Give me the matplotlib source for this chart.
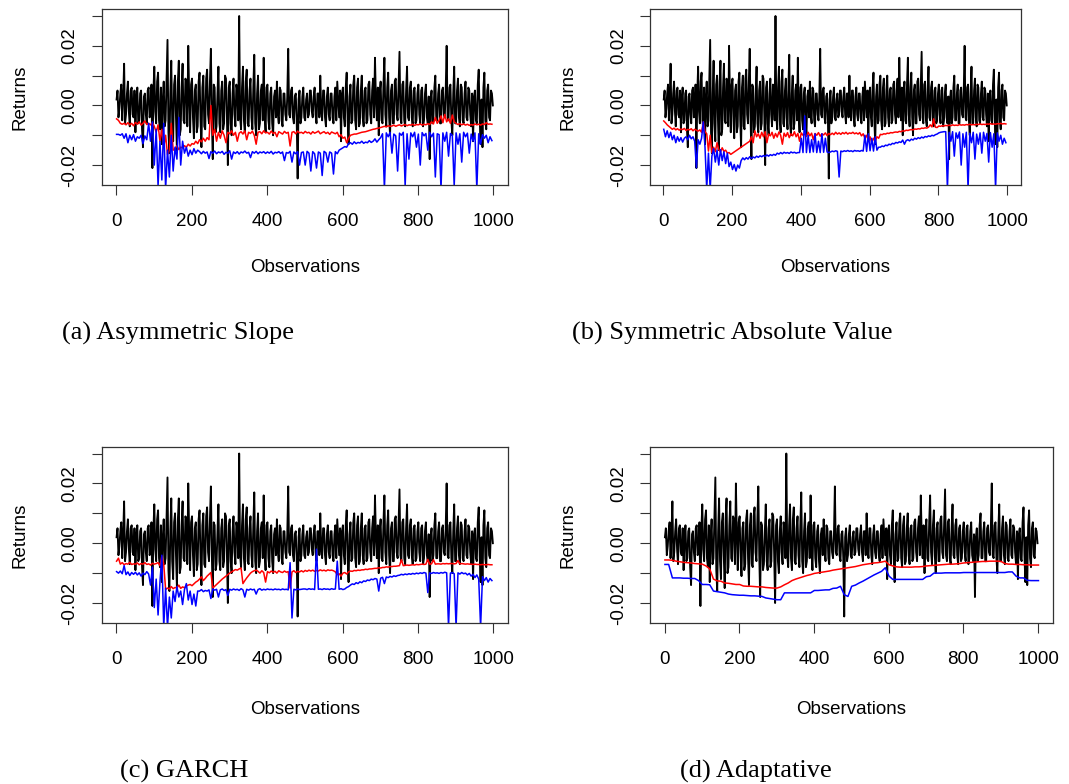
import numpy as np
import matplotlib
matplotlib.use("Agg")
import matplotlib.pyplot as plt

# daily returns, units of 1e-3, one value every 2.5 observations
returns = [
    2, 5, -4, -1, 4, 7, -5, 3, 14, -6,
    -3, 4, 8, -2, -7, 5, 6, -3, -4, 5,
    -9, 2, 6, -6, -5, 4, 5, -8, -14, 3,
    4, -3, -6, 5, 6, -4, -3, 7, -21, 4,
    13, -2, -6, 8, 11, -5, -8, 6, -13, 2,
    8, -7, -5, 9, 22, -9, -16, 4, 15, -6,
    -12, 7, 10, -4, -15, 8, 15, -10, -8, 6,
    14, -5, -6, 9, 8, -7, 20, 3, -9, 7,
    9, -4, -11, 5, 7, -9, -7, 8, 11, -5,
    -14, 6, 10, -7, -8, 9, 12, -3, -6, 8,
    19, -4, -18, 7, 6, -9, -7, 4, 13, -6,
    -9, 5, 8, -8, -6, 10, 9, -4, -20, 6,
    8, -6, -10, 4, 9, -3, -7, 7, 5, -5,
    30, -4, -8, 6, 13, -5, -9, 8, 12, -6,
    -7, 5, 9, -4, -8, 6, 17, -6, -10, 4,
    10, -8, -6, 5, 7, -5, 16, -3, -9, 6,
    7, -5, -8, 4, 6, -6, -10, 3, 5, -4,
    8, -3, -6, 6, 5, -5, -7, 4, 4, -3,
    -5, 3, 19, -3, -4, 5, 6, -4, -6, 3,
    4, -5, -24.5, 2, 5, -6, -4, 3, 6, -4,
    -5, 2, 4, -4, -3, 5, 5, -2, -4, 3,
    6, -3, -6, 4, 4, -4, 10, -2, -5, 5,
    5, -4, -7, 3, 6, -3, -5, 4, 4, -4,
    -6, 3, 6, -5, 8, 2, -4, 5, -12, 4,
    6, -4, -7, 6, 11, -5, -13, 3, 7, -6,
    -5, 7, 10, -5, -8, 6, 9, -7, -6, 5,
    10, -4, -7, 5, 6, -6, -5, 7, 8, -3,
    -6, 5, 9, -4, 16, 2, -5, 6, -10, 4,
    8, -5, -6, 7, 16, -3, -7, 6, 11, -4,
    -10, 5, 7, -6, -6, 8, 9, -3, -5, 6,
    18, -4, -6, 7, 8, -5, -7, 5, 13, -4,
    -5, 6, 8, -4, -7, 5, 6, -6, -5, 4,
    7, -3, -6, 5, 6, -7, -5, 4, 7, -4,
    -6, 3, -18, 2, 5, -6, -4, 6, 10, -5,
    -5, 4, 7, -6, -6, 5, 6, -3, -4, 5,
    20, -4, -5, 6, 7, -5, -10, 4, 13, -6,
    -6, 5, 9, -4, -7, 7, 6, -5, -6, 4,
    8, -4, -5, 6, 5, -3, -7, 4, -12, 3,
    5, -5, -6, 7, 12, -4, -13, 2, -14, 6,
    11, -5, -8, 5, 7, -4, -5, 5, 4, 0,
]

# (a) asymmetric slope: VaR (red) and ES (blue), one value every 5 observations
asym_var = [
    -4.5, -5, -6, -6.3, -6, -6.5,
    -5.8, -6.5, -6, -6.8, -5.7, -6.3, -5.5, -6.6, -6, -5.2, -6.4, -6,
    -6.5, -5.8, -7,
    -9, -6.5, -12, -8, -14, -10,
    -16.5, -15, -6,
    -15, -14.5, -13.5, -14.8, -14, -14.2,
    -13.5, -14, -13, -13.6, -12.8,
    -13, -12, -12.8, -11.5, -12.2, -11, -12, -10.8, -11.5,
    0,
    -10, -8, -12, -9, -11, -8.5, -10, -12.5, -9,
    -9.5, -8.5, -10, -9, -12, -9.3, -8.8, -9.6, -8.5, -11.5,
    -9, -9.4, -8.6, -10, -13, -9, -8.8, -9.5, -8.5, -9.2,
    -9, -9.6, -8.6, -9.4, -9, -10.5, -8.8, -9.2, -9.6, -8.7,
    -9.3, -9, -13.6, -9, -8.8, -9.5, -8.6, -9.2, -9,
    -9.4, -8.7, -9.2, -9, -9.6, -8.8, -9.3, -9, -8.6, -9.5,
    -9.1, -8.8, -9.4, -9, -9.7, -8.9, -9.2, -9.5, -9,
    -10.5, -9.8, -11, -10.6, -12.5, -11,
    -10, -9.8, -9.6, -9.6, -9.4, -9.2, -9, -8.9, -8.8, -8.6,
    -8.4, -8.2, -8, -7.9, -7.7, -7.6, -7.4, -7.2,
    -7, -7.2, -6.8, -7, -6.9, -6.6, -7, -6.7, -6.5, -6.9,
    -6.6, -6.4, -6.8, -6.5, -6.6, -6.3, -6.7, -6.4, -6.5, -6.2,
    -6.6, -6.3, -6.5, -6.1, -6.4, -5.5, -6.2, -4, -6, -5,
    -3.5, -5.8, -3, -5.5, -4.5, -6, -3.2, -5.5, -6,
    -6.4, -6.1, -6.5, -6.2, -6.6, -6.3, -6.7, -6.4, -6.6, -6.2,
    -6.5, -6.3, -6.6, -6.2, -6.4, -5.8, -6.3, -6.2, -6.3,
]
asym_es = [
    -9.7, -9.7, -10, -9.5,
    -11, -9.5, -12.5, -10, -11.5, -9.8, -12, -10.5, -11, -10, -12.8, -10.2, -11.5,
    -6, -12, -5.5,
    -20, -8, -27, -12, -25, -6, -28, -15, -24, -10,
    -22, -14, -18, -4, -20, -12, -16,
    -14, -17, -15, -16.5, -14.5, -16, -15,
    -15.5, -16.2, -15.4, -16, -15.6, -17.8, -15.5, -16, -15.3, -16.2,
    -15.6, -15.9, -15.4, -16.4, -15.7, -16, -15.2, -18, -15.6, -16.1,
    -15.5, -16.3, -15.6, -15.9, -15.3, -16, -15.7, -17.5, -15.5, -16,
    -15.4, -16.2, -15.6, -15.9, -15.5, -16.1, -15.6, -16, -15.4, -16.3,
    -15.7, -15.9, -15.5, -16.1, -15.6, -18.5, -15.8, -16, -15.4, -19,
    -15.6, -16.2, -15.5, -20, -15.8,
    -15.6, -20, -15.4, -16, -22, -15.5, -16.2, -21, -15.6, -16,
    -23.5, -15.4, -15.9, -19, -15.6, -16, -23, -15.5, -16.2,
    -15, -14.6, -14.2, -13.8, -14, -12.8,
    -12.5, -13, -12.2, -12.8, -12.4, -12.6, -12, -12.7, -12.3,
    -12.5, -11.8, -12.4, -12, -11.2, -12.3, -11.5, -10.8,
    -9.5, -28, -9.2, -10.5, -9, -16, -9.6, -10.2, -22, -9.3,
    -10, -9, -27, -9.5, -18, -9.2, -10.5, -9, -14, -9.6,
    -20, -9.1, -10.2, -9.4, -15, -9, -10.5, -9.3, -24, -9.5,
    -9.8, -28, -9.2, -12, -9, -17, -9.4, -10, -27, -9.2,
    -13, -9.5, -19, -9, -10.5, -9.3, -16, -9.6, -12, -9.2,
    -28, -9.5, -13, -9.8, -11, -10, -12.5, -10.5, -11.8,
]

# (b) symmetric absolute value
absval_var = [
    -5.2, -5.8, -6.5, -7, -7.5,
    -8, -7.6, -8.2, -7.8, -8.3, -7.9, -8.1, -7.7, -8.4, -8, -8.2, -7.8, -8.5, -8, -8.3,
    -8.6, -8.2, -9, -5.5, -8.8, -9.5,
    -15.3, -10, -15.8,
    -14, -15.5, -12.5, -14.8, -15.6, -14.2, -15.4, -15, -16, -15.8,
    -16.4,
    -16, -15.6, -15.2, -14.8, -14.4, -14, -13.6, -13.2, -12.8, -12.4, -12,
    -10.5, -12.5, -8.5, -10.5,
    -9.5, -11, -9, -10.5, -8.8, -12.5, -9.6, -10.2, -9, -11,
    -9.4, -10.6, -8.9, -10, -13, -9.3, -10.4, -9.1, -10.8, -9.5,
    -10.2, -8.8, -10.5, -9.4, -12, -9.2, -10, -9.6, -10.4, -9,
    -10.2, -9.3, -11.5, -9.4, -10, -9.1, -10.3, -9.5, -9.9, -9.2,
    -10.1, -9.4, -9.8,
    -9.3, -9.8, -9, -9.6, -9.2, -9.7, -9.1, -9.5, -9, -9.6,
    -9.2, -9.4, -9, -9.5, -9.2, -9.6, -9.1,
    -10.2, -9.5, -11, -10, -11.8, -10.5, -12.5, -11, -12, -10.5, -11,
    -9.7, -9.8, -9.5, -9.6, -9.3, -9.4, -9.1, -9.2, -9, -8.9,
    -9, -8.7, -8.8, -8.5, -8.6, -8.3, -8.4, -8.2, -8.1, -8.2,
    -7.9, -8, -7.8, -7.9, -7.6, -7.7, -7.5, -7.6, -7.3, -6.5,
    -7.2, -4.5, -7.3, -7.4,
    -6.9, -7, -6.8, -6.9, -6.7, -6.8, -6.6, -6.8, -6.5, -6.7,
    -6.6, -6.7, -6.4, -6.6, -6.5, -6.6, -6.4, -6.5, -6.3, -6.5,
    -6.4, -6.5, -6.3, -6.4, -6.2, -6.4, -6.3, -6.4, -6.2, -6.3,
    -6.1, -6.3, -6.2, -6.3, -6.1, -6.2, -6, -6.2, -6.1, -6.2,
]
absval_es = [
    -8, -10.5, -8.5, -10.8, -9,
    -11.5, -10, -12.5, -10.5, -12, -10.8, -12.3, -11,
    -10.5, -11.5, -10, -11.2, -10.5,
    -12, -20.9,
    -11.5, -13, -11, -5.5,
    -14, -28, -16, -28,
    -17, -14.5, -19, -15, -20, -14.8, -18.5, -15.5, -19.5, -16, -20.5,
    -19, -21.5, -19.8, -22, -20, -21,
    -18.5, -17.6, -18.2, -17.5, -18, -17.2, -17.8, -17.3, -17.6, -17,
    -17.4, -16.9, -17.2, -16.8, -17.1, -16.6, -17, -16.5, -16.8, -16.4, -16.7,
    -16, -16.3, -15.8, -16.2, -15.7, -16, -15.8, -16.1, -15.6, -15.9, -15.7, -16, -15.8,
    -15.8, -11, -15.8, -3.5, -15.8, -10, -15.8, -11.5, -15.6, -9.5,
    -15.8, -12, -15.8, -9.5, -15.7, -11, -15.6, -15.8, -15.6,
    -15.3, -15.5, -15.2, -15.4, -24, -15.3, -15.5, -15.2, -15.4, -15.1,
    -15.4, -15.2, -15.5, -15.1, -15.3, -15.2, -15.4, -15.1,
    -15.3, -10, -15.4, -9.5, -15.2, -11, -15.3, -10.5, -15, -14,
    -14, -13.6, -13.8, -13.3, -13.5, -13, -13.2, -12.7, -12.9, -12.4,
    -12.6, -12.2, -12.4, -11.6, -13, -11.8, -11.5, -11.9, -11.3, -11.6,
    -11, -11.3, -10.8, -11.1, -10.6, -10.9, -10.4, -10.6, -10.2, -10.4,
    -10, -10.2, -9.8, -9.6,
    -9.2, -9, -8.9, -8.8, -8.8,
    -28, -9, -12, -8.8, -17, -9.2, -11, -8.9, -20, -9.5,
    -14, -9, -28, -9.3, -12.5, -9, -18, -9.6, -13, -9.2,
    -16, -9, -12, -9.4, -19, -9.1, -14, -9.5, -28, -9.2,
    -12, -10, -13, -11, -12.5,
]

# (c) GARCH
garch_var = [
    -6, -5,
    -7, -6.5, -7.2, -6.8, -7, -6.4, -7.1, -6.9, -7, -6.6,
    -7.2, -6.8, -7, -6.5, -7.1, -6.9, -7.3, -6.7, -7, -6.8,
    -6.5, -7.5, -4.3, -7,
    -15.5, -15,
    -15.3, -14.5, -15.2, -14.8, -15, -14, -15.1, -14.6, -14.9, -14.3,
    -14, -13.8, -14.2, -13.6, -13, -12.6,
    -12, -11.2, -12.5, -11.8, -11, -10.4, -9.8,
    -15, -14.4, -13.8, -13.2, -12.6, -12, -11.5, -11, -10.5, -10,
    -9.6, -9.2, -8.8, -9, -8.6, -8.3,
    -13.5,
    -12.5, -11.6, -10.8, -10, -9.5, -9.2, -9,
    -9.4, -10, -9.2, -9.8, -13, -9.5, -9.9, -9.3, -9.7, -9.4,
    -10, -9.2, -9.6, -9.8, -9.3, -9.7, -9.5, -15, -9.6, -9.2,
    -9.8, -9.4, -9.6, -9.2, -9.6,
    -9.1, -9.4, -9, -9.3, -9, -9.4, -9.1, -9.3, -8.9, -9.2,
    -9, -9.3, -8.9, -9.1, -9, -9.2,
    -9.6, -10.5, -10.2, -11, -10, -9.8, -10.3, -9.6,
    -9.3, -9.4, -9.1, -9.2, -9, -9.1, -8.9, -8.9, -8.7, -8.8,
    -8.6, -8.6, -8.5, -8.4, -8.4, -8.2, -8.3, -8.1, -8.1, -7.9,
    -8, -7.8, -7.8, -7.7, -7.7, -7.6,
    -7.5, -5.5, -7.5, -7.4, -7.3, -7.4, -7.3, -7.2, -7.3, -7.1,
    -7.2, -7.1, -7, -7.1, -7, -5.4, -7, -6.9, -5.5, -7, -6.9,
    -6.9, -7, -6.8, -6.9, -6.8, -6.9, -6.8, -6.8, -6.9, -6.8,
    -5.8, -6.9, -6.8, -6.9, -7, -6.9, -7, -7, -7.1, -7,
    -7.1, -7.1, -7.2, -7.1, -7.2, -7.2, -7.1, -7.2, -7.2,
]
garch_es = [
    -9.5, -10, -9.3, -10.2, -7.5, -10.5, -9.6, -10.8, -9.8, -10.4,
    -9.7, -10.6, -9.9, -11, -10, -10.5, -9.5, -10.3,
    -14, -8, -21.5, -12,
    -24, -13, -4, -28, -15, -28, -18, -25,
    -16, -19.5, -14.5, -18, -16, -20.5, -15.5, -13.5, -19, -16, -20.5, -17, -21, -16,
    -16, -15.5, -16.2, -15.8, -16, -15.6, -18.5,
    -15.3, -15.7, -15.4, -18, -15.6, -15.3, -15.8, -15.5, -17.5, -15.4,
    -15.7, -15.3, -15.6, -15.4, -15.8, -15.2, -15.6, -18, -15.4, -15.7,
    -15.3, -15.6, -15.4, -17, -15.5, -15.2, -15.7, -15.4, -15.6, -15.3,
    -15.5, -15.4, -15.6, -15.3, -15.5, -15.4, -15.6, -15.3, -15.5, -15.4,
    -15.6, -6.5, -25, -15.4, -15.6, -15.3, -15.5, -15.4, -15.3,
    -15.3, -15.5, -15.2, -15.4, -15.3, -15.5, -2, -15.4, -15.3, -15.5,
    -15.2, -15.4, -15.3, -15.5, -15.2, -15.4, -15.3, -6, -15.4, -15.2,
    -15.5, -15.3, -14.8, -14.5,
    -14, -13.6, -13.8, -13.2, -13.5, -12.9, -13.2, -12.6, -12.8, -12.3,
    -12.5, -12, -12.2, -11.8, -12, -16, -11.7, -11.4, -13.5, -11.3,
    -11.5, -11.1, -11.3, -10.9, -11.1, -10.8,
    -10.7, -10.4, -10.6, -10.3, -10.5, -10.2, -10.4, -10.1, -10.3, -10,
    -10.2, -9.9, -10.1, -9.8, -10, -16.5, -9.9, -10.1, -9.8, -10,
    -9.9, -10.1, -9.8, -10, -9.7, -9.9, -28, -10, -9.8, -10.2,
    -28, -9.9, -10.3, -9.8, -10.2, -10, -10.6, -10.1, -11, -10.4,
    -11.5, -10.6, -12, -28, -11.2, -12.5, -11.5, -13, -11.8, -12.5,
]

# (d) adaptative, one value every 10 observations
adapt_var = [
    -5.6, -5.6, -5.7, -6, -6.2, -6.4, -6.5, -6.6, -6.8, -6.9, -7,
    -7.6, -8.6, -12, -12.6, -12.7,
    -13.3, -13.4, -13.6, -13.8, -13.8,
    -14.3, -14.4, -14.4, -14.5, -14.6,
    -14.6, -14.8, -14.9, -15, -15,
    -14.6, -13.9, -13.3, -12.5,
    -12, -11.6, -11.2, -10.8, -10.5,
    -10.1, -9.9, -9.7, -9.5, -9.3,
    -9, -8.8, -8.6, -8.4, -8.2,
    -8, -7.8, -7.5, -7.2, -7, -6.8,
    -6.6, -6.5, -6.3, -6,
    -7.2, -7.6,
    -7.9, -8, -8, -8, -8, -7.9, -7.9, -7.8,
    -7.6, -7.5, -7.4, -7.3, -7.2, -7.1, -7, -7, -6.9, -6.8,
    -6.6, -6.5, -6.4, -6.3, -6.2, -6.1, -6.1, -6, -6, -6,
    -6.1, -6.8, -7, -7, -7.1, -7.1,
    -7.2, -7.2, -7.3, -7.3, -7.3,
]
adapt_es = [
    -7.1, -7.1,
    -11.6, -11.6, -11.6, -11.7, -11.7, -11.8, -11.8, -12.5,
    -13.8, -13.8, -13.9,
    -16, -16.2, -16.4, -16.6, -17,
    -17.2, -17.3, -17.4, -17.4, -17.5, -17.6, -17.6, -17.7, -17.8,
    -18.3, -18.5, -18.7, -18.9, -18.9,
    -16.6, -16.6, -16.6, -16.6, -16.6, -16.6, -16.6, -16.6,
    -15.8, -15.8, -15.7, -15.6, -15.6,
    -15.1, -15, -14.4,
    -17.2, -17.8,
    -14.4, -14,
    -13.3, -12.7, -12, -11.3, -10.6, -10, -9.4,
    -8.2,
    -11,
    -12.1, -12.1, -12.1, -12.1, -12.1, -12.1, -12.1, -12.1, -12.1,
    -11.2, -11,
    -10, -10, -10, -9.9, -9.9, -9.9, -9.9, -9.9, -9.8, -9.8, -9.8, -9.8, -9.8,
    -9.8, -9.8, -9.8, -9.8, -9.8, -9.8, -9.8, -9.6, -9.6,
    -11, -11.6, -11.6,
    -12.4, -12.5, -12.5, -12.5,
]

captions = ["(a) Asymmetric Slope", "(b) Symmetric Absolute Value",
            "(c) GARCH", "(d) Adaptative"]

W, H = 1069, 784
# axes boxes in pixels: left, top, right, bottom
boxes = [(101.5, 9.5, 508.5, 185), (650, 9.5, 1021, 185),
         (101.5, 447, 508.5, 623), (650, 447, 1053, 623)]
ylab_x = [20, 568, 20, 568]
xlab_y = [268, 268, 709, 709]
cap_pos = [(62, 333), (572, 333), (120, 771), (680, 771)]
panels = [(asym_var, asym_es, 5), (absval_var, absval_es, 5),
          (garch_var, garch_es, 5), (adapt_var, adapt_es, 10)]

plt.rcParams["font.family"] = "Liberation Sans"

fig = plt.figure(figsize=(W / 100, H / 100), dpi=100)

r = np.array(returns) * 1e-3
x_r = 1 + 2.5 * np.arange(len(r))
lo, hi = r.min(), r.max()
pad = 0.04 * (hi - lo)

for k, (var, es, step) in enumerate(panels):
    l, t, rgt, b = boxes[k]
    ax = fig.add_axes([l / W, 1 - b / H, (rgt - l) / W, (b - t) / H])
    ax.plot(x_r, r, color="black", lw=1.35)
    xs = 1 + step * np.arange(len(var))
    ax.plot(xs, np.array(var) * 1e-3, color="#ff0000", lw=1.1)
    xs = 1 + step * np.arange(len(es))
    ax.plot(xs, np.array(es) * 1e-3, color="#0000ff", lw=1.1)

    ax.set_xlim(1 - 0.04 * 999, 1000 + 0.04 * 999)
    ax.set_ylim(lo - pad, hi + pad)
    ax.set_xticks(np.arange(0, 1001, 200))
    ax.set_xticklabels([str(v) for v in range(0, 1001, 200)])
    ax.set_yticks([-0.02, -0.01, 0.0, 0.01, 0.02, 0.03])
    ax.set_yticklabels(["-0.02", "", "0.00", "", "0.02", ""],
                       rotation=90, va="center")
    ax.tick_params(direction="out", length=7.5, width=0.8, labelsize=13.5,
                   color="#333333")
    ax.tick_params(axis="x", pad=13)
    ax.tick_params(axis="y", pad=9)
    for s in ax.spines.values():
        s.set_linewidth(0.9)
        s.set_color("#333333")

    ax.set_ylabel("Returns", fontsize=13.5, va="center")
    ax.yaxis.set_label_coords((ylab_x[k] - l) / (rgt - l), 0.5)
    ax.set_xlabel("Observations", fontsize=13.5, va="center")
    ax.xaxis.set_label_coords(0.5, (b - xlab_y[k]) / (b - t))

    cx, cy = cap_pos[k]
    fig.text(cx / W, 1 - cy / H, captions[k], ha="left", va="center",
             family="Liberation Serif", fontsize=19)

fig.savefig("out.png", dpi=100)
